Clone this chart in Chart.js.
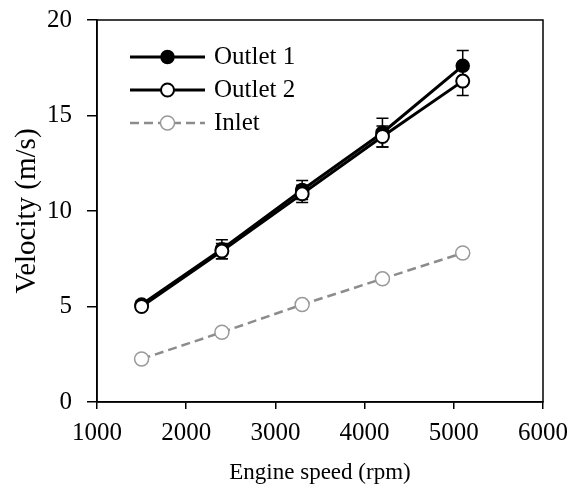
<!DOCTYPE html>
<html lang="en">
<head>
  <meta charset="UTF-8">
  <title>Velocity vs engine speed</title>
  <script src="https://cdn.jsdelivr.net/npm/chart.js"></script>
  <style>
    body { margin: 0; background: #fff; }
    #wrap { position: relative; width: 576px; height: 488px; }
  </style>
</head>
<body>
  <div id="wrap"><canvas id="chart"></canvas></div>
  <script>
    // data
    const rpm = [1500, 2400, 3300, 4200, 5100];
    const outlet1 = [5.1, 8.0, 11.1, 14.1, 17.6];
    const outlet1Err = [0.2, 0.5, 0.5, 0.75, 0.8];
    const outlet2 = [5.0, 7.9, 10.9, 13.9, 16.8];
    const outlet2Err = [0.2, 0.4, 0.45, 0.55, 0.75];
    const inlet = [2.25, 3.65, 5.1, 6.45, 7.8];
    const xTicks = [1000, 2000, 3000, 4000, 5000, 6000];
    const yTicks = [0, 5, 10, 15, 20];

    const pts = (ys) => ys.map((y, i) => ({ x: rpm[i], y: y }));

    Chart.defaults.font.family = '"Liberation Serif", "Times New Roman", serif';
    Chart.defaults.font.size = 24;
    Chart.defaults.color = '#000';

    // error bars, drawn under the markers
    const errorBars = {
      id: 'errorBars',
      beforeDatasetsDraw(chart) {
        const ctx = chart.ctx;
        const xs = chart.scales.x, ys = chart.scales.y;
        ctx.save();
        ctx.strokeStyle = '#000';
        ctx.lineWidth = 1.5;
        chart.data.datasets.forEach(ds => {
          if (!ds.errors) return;
          ds.data.forEach((p, i) => {
            const e = ds.errors[i];
            const px = xs.getPixelForValue(p.x);
            const top = ys.getPixelForValue(p.y + e);
            const bot = ys.getPixelForValue(p.y - e);
            ctx.beginPath();
            ctx.moveTo(px, top); ctx.lineTo(px, bot);
            ctx.moveTo(px - 6, top); ctx.lineTo(px + 6, top);
            ctx.moveTo(px - 6, bot); ctx.lineTo(px + 6, bot);
            ctx.stroke();
          });
        });
        ctx.restore();
      }
    };

    // frame round the plot area + legend inside it
    const frameAndLegend = {
      id: 'frameAndLegend',
      afterDraw(chart) {
        const ctx = chart.ctx;
        const a = chart.chartArea;
        ctx.save();
        ctx.strokeStyle = '#000';
        ctx.lineWidth = 1.5;
        ctx.strokeRect(a.left, a.top, a.right - a.left, a.bottom - a.top);

        chart.data.datasets.forEach((ds, i) => {
          const y = a.top + 37 + i * 33;
          const x0 = a.left + 33, x1 = a.left + 108, xm = (x0 + x1) / 2;
          ctx.strokeStyle = ds.borderColor;
          ctx.lineWidth = ds.borderWidth;
          ctx.setLineDash(ds.borderDash || []);
          ctx.beginPath();
          ctx.moveTo(x0, y); ctx.lineTo(x1, y);
          ctx.stroke();
          ctx.setLineDash([]);
          ctx.beginPath();
          ctx.arc(xm, y, ds.pointRadius, 0, Math.PI * 2);
          ctx.fillStyle = ds.pointBackgroundColor;
          ctx.fill();
          ctx.lineWidth = ds.pointBorderWidth;
          ctx.strokeStyle = ds.pointBorderColor;
          ctx.stroke();
          ctx.fillStyle = '#000';
          ctx.font = '25px "Liberation Serif", "Times New Roman", serif';
          ctx.textAlign = 'left';
          ctx.textBaseline = 'middle';
          ctx.fillText(ds.label, x1 + 9, y);
        });
        ctx.restore();
      }
    };

    new Chart(document.getElementById('chart'), {
      type: 'line',
      data: {
        datasets: [
          {
            label: 'Outlet 1',
            data: pts(outlet1),
            errors: outlet1Err,
            order: 1,
            borderColor: '#000',
            borderWidth: 3,
            pointRadius: 6.5,
            pointBackgroundColor: '#000',
            pointBorderColor: '#000',
            pointBorderWidth: 1.5
          },
          {
            label: 'Outlet 2',
            data: pts(outlet2),
            errors: outlet2Err,
            order: 0,
            borderColor: '#000',
            borderWidth: 3,
            pointRadius: 6.5,
            pointBackgroundColor: '#fff',
            pointBorderColor: '#000',
            pointBorderWidth: 2
          },
          {
            label: 'Inlet',
            data: pts(inlet),
            order: 2,
            borderColor: '#8c8c8c',
            borderWidth: 2.5,
            borderDash: [9, 5],
            pointRadius: 7,
            pointBackgroundColor: '#fff',
            pointBorderColor: '#999',
            pointBorderWidth: 1.5
          }
        ]
      },
      options: {
        responsive: true,
        maintainAspectRatio: false,
        animation: false,
        layout: { padding: { top: 20, right: 33, left: 0, bottom: 0 } },
        plugins: {
          legend: { display: false },
          tooltip: { enabled: false }
        },
        scales: {
          x: {
            type: 'linear',
            min: 1000,
            max: 6000,
            afterBuildTicks: s => { s.ticks = xTicks.map(v => ({ value: v })); },
            afterFit: s => { s.height = 86; s.paddingLeft = 0; s.paddingRight = 0; },
            grid: { drawOnChartArea: false, drawTicks: true, tickLength: 7, color: '#000', lineWidth: 1.5 },
            border: { display: true, color: '#000', width: 1.5 },
            ticks: { padding: 9, maxRotation: 0, font: { size: 25 }, callback: v => String(v) },
            title: { display: true, text: 'Engine speed (rpm)', font: { size: 23 }, padding: { top: 0, bottom: 1 } }
          },
          y: {
            min: 0,
            max: 20,
            afterBuildTicks: s => { s.ticks = yTicks.map(v => ({ value: v })); },
            afterFit: s => { s.width = 97; s.paddingTop = 0; s.paddingBottom = 0; },
            grid: { drawOnChartArea: false, drawTicks: true, tickLength: 10, color: '#000', lineWidth: 1.5 },
            border: { display: true, color: '#000', width: 1.5 },
            ticks: { padding: 15, font: { size: 25 }, callback: v => String(v) },
            title: { display: true, text: 'Velocity (m/s)', font: { size: 29 }, padding: { top: 10, bottom: 0 } }
          }
        }
      },
      plugins: [errorBars, frameAndLegend]
    });
  </script>
</body>
</html>
